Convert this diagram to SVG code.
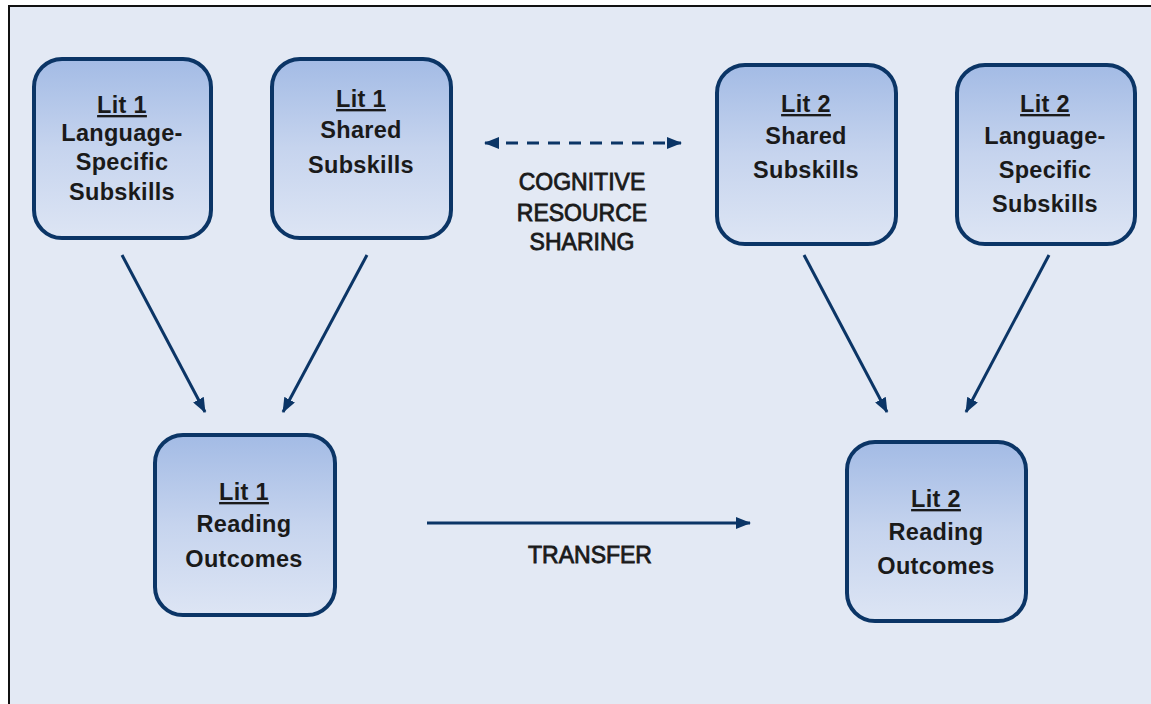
<svg xmlns="http://www.w3.org/2000/svg" width="1151" height="704" viewBox="0 0 1151 704">
<style>
.node rect{fill:url(#g);stroke:#0b3566;stroke-width:4}
.node text{font-family:"Liberation Sans",Arial,sans-serif;font-weight:bold;font-size:23.5px;letter-spacing:0.3px;fill:#1a1a1a;text-anchor:middle}
.u{text-decoration:underline}
.lbl{font-family:"Liberation Sans",Arial,sans-serif;font-size:23px;fill:#1a1a1a;stroke:#1a1a1a;stroke-width:0.8;text-anchor:middle}
.c line{stroke:#0b3566;stroke-width:3;fill:none}
</style>
<defs>
<linearGradient id="g" x1="0" y1="0" x2="0" y2="1">
<stop offset="0" stop-color="#a3bbe5"/>
<stop offset="0.5" stop-color="#c6d4ee"/>
<stop offset="1" stop-color="#dde5f4"/>
</linearGradient>
<marker id="ah" viewBox="0 0 15 12" refX="14" refY="6" markerWidth="15" markerHeight="12" markerUnits="userSpaceOnUse" orient="auto-start-reverse">
<path d="M0,0 L15,6 L0,12 Z" fill="#0b3566"/>
</marker>
</defs>
<rect x="0" y="0" width="1151" height="704" fill="#ffffff"/>
<rect x="9" y="6" width="1160" height="720" fill="#e3e9f4" stroke="#111" stroke-width="2"/>

<g class="c" id="connectors">
<line x1="122" y1="255" x2="205" y2="412" marker-end="url(#ah)"/>
<line x1="367" y1="255" x2="283" y2="412" marker-end="url(#ah)"/>
<line x1="804" y1="255" x2="887" y2="412" marker-end="url(#ah)"/>
<line x1="1049" y1="255" x2="966" y2="412" marker-end="url(#ah)"/>
<line x1="427" y1="523" x2="750" y2="523" marker-end="url(#ah)"/>
<line x1="485" y1="143" x2="681" y2="143" stroke-dasharray="12,9" marker-start="url(#ah)" marker-end="url(#ah)"/>
</g>

<g id="lit1-ls" class="node">
<rect x="34" y="59" width="177" height="179" rx="28"/>
<text x="122" y="113" class="u">Lit 1</text>
<text x="122" y="141">Language-</text>
<text x="122" y="170">Specific</text>
<text x="122" y="200">Subskills</text>
</g>
<g id="lit1-shared" class="node">
<rect x="272" y="59" width="179" height="179" rx="28"/>
<text x="361" y="107" class="u">Lit 1</text>
<text x="361" y="138">Shared</text>
<text x="361" y="173">Subskills</text>
</g>
<g id="lit2-shared" class="node">
<rect x="717" y="65" width="179" height="179" rx="28"/>
<text x="806" y="112" class="u">Lit 2</text>
<text x="806" y="144">Shared</text>
<text x="806" y="178">Subskills</text>
</g>
<g id="lit2-ls" class="node">
<rect x="957" y="65" width="178" height="179" rx="28"/>
<text x="1045" y="112" class="u">Lit 2</text>
<text x="1045" y="144">Language-</text>
<text x="1045" y="178">Specific</text>
<text x="1045" y="212">Subskills</text>
</g>
<g id="lit1-reading" class="node">
<rect x="155" y="435" width="180" height="180" rx="28"/>
<text x="244" y="500" class="u">Lit 1</text>
<text x="244" y="532">Reading</text>
<text x="244" y="567">Outcomes</text>
</g>
<g id="lit2-reading" class="node">
<rect x="847" y="442" width="179" height="179" rx="28"/>
<text x="936" y="507" class="u">Lit 2</text>
<text x="936" y="540">Reading</text>
<text x="936" y="574">Outcomes</text>
</g>

<g id="labels">
<text class="lbl" x="582" y="190">COGNITIVE</text>
<text class="lbl" x="582" y="221">RESOURCE</text>
<text class="lbl" x="582" y="250">SHARING</text>
<text class="lbl" x="590" y="563">TRANSFER</text>
</g>
</svg>
